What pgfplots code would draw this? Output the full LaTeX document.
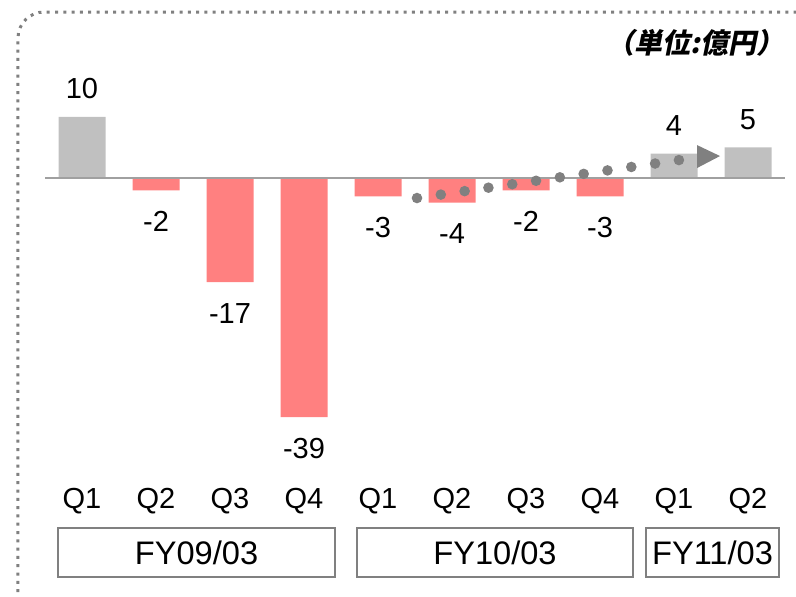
\documentclass[border=0pt]{standalone}
\usepackage{pgfplots}
\pgfplotsset{compat=1.18}
\usepackage{fontspec}
\setmainfont{Liberation Sans}
\newfontfamily\cjk[FakeSlant=0.2]{Noto Sans CJK JP}
\usetikzlibrary{arrows.meta}
\definecolor{barpos}{HTML}{C0C0C0}
\definecolor{barneg}{HTML}{FF8080}
\definecolor{zline}{HTML}{A0A0A0}
\definecolor{dotc}{HTML}{808080}
\begin{document}
\begin{tikzpicture}
\begin{axis}[
  scale only axis,
  width=370pt, height=226.9pt,
  xmin=-0.5, xmax=9.5,
  ymin=-52.04, ymax=22,
  axis line style={draw=none},
  ytick=\empty,
  clip=false,
  ybar, bar width=23.5pt, bar shift=0pt,
  xtick={0,...,9},
  xticklabels={Q1,Q2,Q3,Q4,Q1,Q2,Q3,Q4,Q1,Q2},
  major tick length=0pt,
  xtick style={draw=none},
  ticklabel style={font=\fontsize{14.5}{17}\selectfont},
  xticklabel style={anchor=base, yshift=-5.5pt},
  point meta=explicit symbolic,
  nodes near coords,
  every node near coord/.append style={font=\fontsize{14.5}{17}\selectfont, anchor=center},
]
\addplot[fill=barpos, draw=none,
  every node near coord/.append style={yshift=14pt}]
  coordinates {(0,10) [10] (8,4) [4] (9,5) [5]};
\addplot[fill=barneg, draw=none,
  every node near coord/.append style={yshift=-15.5pt}]
  coordinates {(1,-2) [-2] (2,-17) [-17] (3,-39) [-39] (4,-3) [-3] (5,-4) [-4] (6,-2) [-2] (7,-3) [-3]};
\draw[zline, line width=1pt] (axis cs:-0.5,0) -- (axis cs:9.5,0);
% trend
\addplot[ybar=0pt, sharp plot, nodes near coords={}, draw=dotc, line width=5.3pt, line cap=round,
  dash pattern=on 0pt off 12.03pt] coordinates {(4.527,-3.263) (8.068,2.936)};
\fill[dotc] (axis cs:8.311,5.38) -- (axis cs:8.622,3.59) -- (axis cs:8.311,1.63) -- cycle;
% group boxes
\begin{scope}[draw=dotc, line width=1pt, every node/.style={font=\fontsize{16.3}{19}\selectfont}]
\draw (axis cs:-0.324,-57.1) rectangle node {FY09/03} (axis cs:3.419,-65.09);
\draw (axis cs:3.716,-57.1) rectangle node {FY10/03} (axis cs:7.446,-65.09);
\draw (axis cs:7.622,-57.1) rectangle node {FY11/03} (axis cs:9.419,-65.09);
\end{scope}
\end{axis}
\node[anchor=east, inner sep=0pt, font=\cjk\bfseries\fontsize{14}{16}\selectfont] at (370pt,227pt) {（単位:億円）};
\draw[dotc, line width=1.5pt, dash pattern=on 1.5pt off 2.65pt, rounded corners=13pt]
  (380pt,242.5pt) -- (-13.5pt,242.5pt) -- (-13.5pt,-55pt);
\pgfresetboundingbox
\useasboundingbox (-22.5pt,-49.5pt) rectangle (375.5pt,248.5pt);
\end{tikzpicture}
\end{document}
